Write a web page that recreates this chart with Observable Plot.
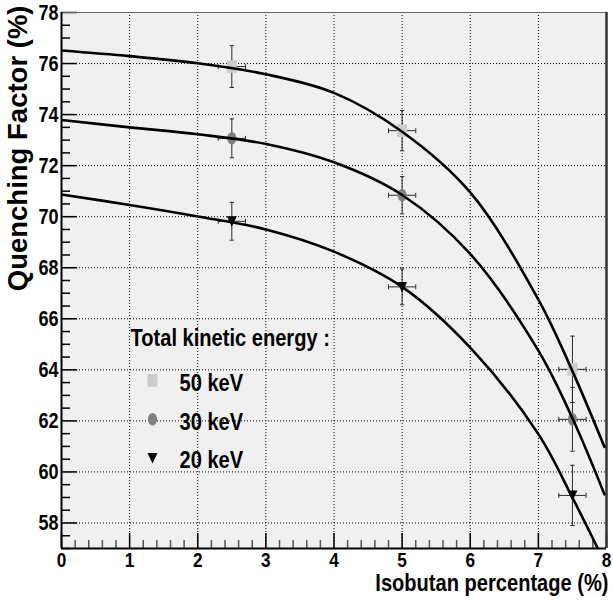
<!DOCTYPE html>
<html><head><meta charset="utf-8">
<script src="https://cdn.jsdelivr.net/npm/d3@7"></script>
<script src="https://cdn.jsdelivr.net/npm/@observablehq/plot@0.6"></script>
<style>
html,body{margin:0;padding:0;background:#fff;}
</style></head><body><div id="chart"></div>
<script>
// ---- data ----
const isobutan = [2.5, 5, 7.5];
const xErr = [0.2, 0.2, 0.2];
const qf50 = [75.88, 73.37, 64.02];
const err50 = [0.82, 0.79, 1.30];
const qf30 = [73.07, 70.84, 62.06];
const err30 = [0.76, 0.73, 1.25];
const qf20 = [69.82, 67.25, 59.08];
const err20 = [0.74, 0.70, 1.18];

// fitted curves
const fitX50 = [0, 1, 2, 3, 4, 5, 6, 7, 7.5, 7.97];
const fitY50 = [76.51, 76.29, 76.01, 75.58, 74.85, 73.33, 70.95, 66.75, 63.95, 60.98];
const fitX30 = [0, 1, 2, 3, 4, 5, 6, 7, 7.5, 7.97];
const fitY30 = [73.79, 73.50, 73.23, 72.85, 72.13, 70.85, 68.54, 64.75, 62.10, 59.12];
const fitX20 = [0, 1, 2, 3, 4, 5, 6, 7, 7.5, 7.9];
const fitY20 = [70.87, 70.46, 70.01, 69.50, 68.63, 67.25, 64.87, 61.48, 58.99, 56.85];

const seriesNames = ["50 keV", "30 keV", "20 keV"];
const legendTitle = "Total kinetic energy :";
const xTickLabels = [0, 1, 2, 3, 4, 5, 6, 7, 8];
const yTickLabels = [58, 60, 62, 64, 66, 68, 70, 72, 74, 76, 78];
const xLabel = "Isobutan percentage (%)";
const yLabel = "Quenching Factor (%)";

// ---- layout ----
const W = 613, H = 609;
const mL = 61, mR = 7, mT = 12, mB = 61;
const fw = W - mL - mR, fh = H - mT - mB;
const narrow = "Liberation Sans, Arial, sans-serif";
const wide = "Liberation Sans, Arial, Helvetica, sans-serif";
const squeeze = 0.82;

// custom marker shapes
const rectSym = {draw(c){const w=5,h=6.3;c.moveTo(-w,-h);c.lineTo(w,-h);c.lineTo(w,h);c.lineTo(-w,h);c.closePath();}};
const ellSym = {draw(c){const rx=4.5,ry=6.3,k=0.5523;c.moveTo(rx,0);c.bezierCurveTo(rx,ry*k,rx*k,ry,0,ry);c.bezierCurveTo(-rx*k,ry,-rx,ry*k,-rx,0);c.bezierCurveTo(-rx,-ry*k,-rx*k,-ry,0,-ry);c.bezierCurveTo(rx*k,-ry,rx,-ry*k,rx,0);c.closePath();}};
const triSym = {draw(c){c.moveTo(-5,-5);c.lineTo(5,-5);c.lineTo(0,5.5);c.closePath();}};
const hCap = {draw(c){c.moveTo(-2.2,0);c.lineTo(2.2,0);}};
const vCap = {draw(c){c.moveTo(0,-2.5);c.lineTo(0,2.5);}};

const styles = {
  "50 keV": {fill: "#cccccc", symbol: rectSym, ys: qf50, es: err50, fx: fitX50, fy: fitY50},
  "30 keV": {fill: "#808080", symbol: ellSym, ys: qf30, es: err30, fx: fitX30, fy: fitY30},
  "20 keV": {fill: "#000000", symbol: triSym, ys: qf20, es: err20, fx: fitX20, fy: fitY20}
};

const pts = seriesNames.flatMap(s => isobutan.map((x, i) => ({s, x, y: styles[s].ys[i], e: styles[s].es[i], ex: xErr[i]})));
const fits = seriesNames.flatMap(s => styles[s].fx.map((x, i) => ({s, x, y: styles[s].fy[i]})));

const xMinor = d3.range(0, 8.001, 0.2).filter(v => Math.abs(v - Math.round(v)) > 1e-6);
const yMinor = d3.range(57, 78.001, 0.5).filter(v => !(Math.abs(v - Math.round(v)) < 1e-6 && Math.round(v) % 2 === 0));

const errC = "#2a2a2a";
const T = {fontWeight: "bold", fill: "#000", lineAnchor: "middle"};
const marks = [
  Plot.frame({fill: "#f0f0f0", stroke: "none"}),
  // grid
  Plot.ruleY(yTickLabels.filter(v => v < 78), {y: d => d, stroke: "#000", strokeWidth: 1, strokeDasharray: "1,2"}),
  Plot.ruleX(xTickLabels.filter(v => v > 0 && v < 8), {x: d => d, stroke: "#000", strokeWidth: 1, strokeDasharray: "1,2"}),
  // ticks (inward)
  Plot.tickY(yTickLabels, {y: d => d, insetRight: fw - 16, stroke: "#000", strokeWidth: 1.5}),
  Plot.tickY(yMinor, {y: d => d, insetRight: fw - 9, stroke: "#000", strokeWidth: 1.5}),
  Plot.tickX(xTickLabels, {x: d => d, insetTop: fh - 15, stroke: "#000", strokeWidth: 1.5}),
  Plot.tickX(xMinor, {x: d => d, insetTop: fh - 8, stroke: "#555", strokeWidth: 1.5}),
  // frame borders
  Plot.ruleY([78], {stroke: "#666", strokeWidth: 1}),
  Plot.ruleX([8], {stroke: "#333", strokeWidth: 2.5}),
  Plot.ruleX([0], {stroke: "#000", strokeWidth: 2}),
  Plot.ruleY([57], {stroke: "#000", strokeWidth: 2}),
  // error bars
  Plot.ruleX(pts, {x: "x", y1: d => d.y - d.e, y2: d => d.y + d.e, stroke: errC, strokeWidth: 1}),
  Plot.ruleY(pts, {y: "y", x1: d => d.x - d.ex, x2: d => d.x + d.ex, stroke: errC, strokeWidth: 1}),
  Plot.dot(pts, {x: "x", y: d => d.y + d.e, symbol: hCap, stroke: errC, fill: "none", strokeWidth: 1}),
  Plot.dot(pts, {x: "x", y: d => d.y - d.e, symbol: hCap, stroke: errC, fill: "none", strokeWidth: 1}),
  Plot.dot(pts, {x: d => d.x - d.ex, y: "y", symbol: vCap, stroke: errC, fill: "none", strokeWidth: 1}),
  Plot.dot(pts, {x: d => d.x + d.ex, y: "y", symbol: vCap, stroke: errC, fill: "none", strokeWidth: 1}),
  // markers
  ...seriesNames.map(s => Plot.dot(pts.filter(d => d.s === s), {x: "x", y: "y", symbol: styles[s].symbol, fill: styles[s].fill, stroke: "none"})),
  // fit curves
  Plot.line(fits, {x: "x", y: "y", z: "s", curve: "catmull-rom", stroke: "#000", strokeWidth: 2.6, clip: true}),
  // tick labels
  Plot.text(yTickLabels, {...T, y: d => d, text: d => String(d), frameAnchor: "left", dx: -3, textAnchor: "end", fontSize: 22, fontFamily: narrow}),
  Plot.text(xTickLabels, {...T, x: d => d, text: d => String(d), frameAnchor: "bottom", dy: 12, fontSize: 21, fontFamily: narrow}),
  // axis titles
  Plot.text([xLabel], {...T, frameAnchor: "bottom-right", text: d => d, textAnchor: "end", dx: 2, dy: 35, fontSize: 24.5, fontFamily: narrow}),
  Plot.text([yLabel], {...T, frameAnchor: "top-left", text: d => d, rotate: -90, textAnchor: "end", dx: -43, dy: -7, fontSize: 27.5, fontFamily: wide}),
  // legend
  Plot.text([legendTitle], {...T, frameAnchor: "top-left", text: d => d, textAnchor: "start", dx: 69, dy: 326, fontSize: 24.5, fontFamily: narrow}),
  ...seriesNames.map((s, i) => Plot.dot([s], {frameAnchor: "top-left", dx: 91, dy: 368 + i * 38.8, symbol: styles[s].symbol, fill: styles[s].fill, stroke: "none"})),
  ...seriesNames.map((s, i) => Plot.text([s], {...T, frameAnchor: "top-left", text: d => d, textAnchor: "start", dx: 118, dy: 370.5 + i * 38.8, fontSize: 24.5, fontFamily: narrow}))
];

const chart = Plot.plot({
  width: W, height: H,
  marginLeft: mL, marginRight: mR, marginTop: mT, marginBottom: mB,
  x: {domain: [0, 8], axis: null},
  y: {domain: [57, 78], axis: null},
  style: {background: "#fff", overflow: "visible"},
  marks
});
// condensed look: squeeze the narrow-font texts horizontally around their anchor
chart.querySelectorAll("g").forEach(g => {
  if (g.getAttribute("font-family") === narrow) {
    g.querySelectorAll("text").forEach(t => {
      const tr = t.getAttribute("transform") || "";
      t.setAttribute("transform", tr + ` scale(${squeeze},1)`);
    });
  }
});
document.getElementById("chart").appendChild(chart);
</script></body></html>
